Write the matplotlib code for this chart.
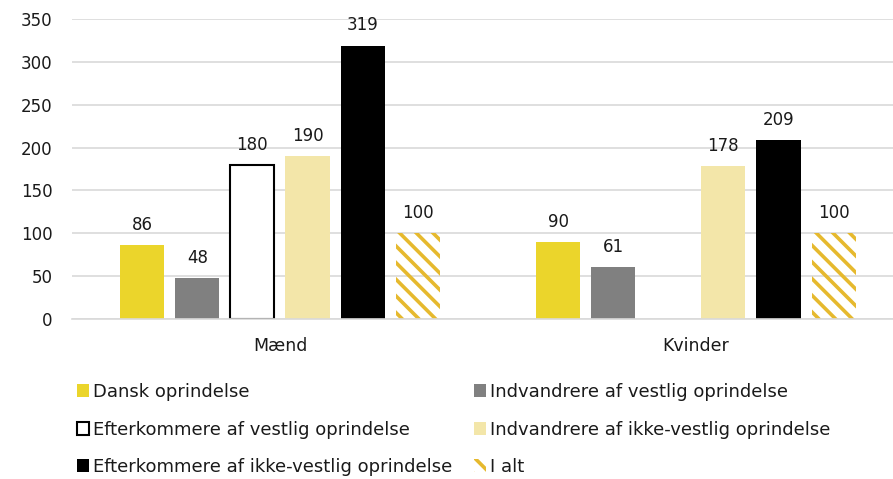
import matplotlib
matplotlib.use("Agg")
import matplotlib.pyplot as plt
import matplotlib.patches as mpatches
import numpy as np

groups = ["Mænd", "Kvinder"]
series = [
    "Dansk oprindelse",
    "Indvandrere af vestlig oprindelse",
    "Efterkommere af vestlig oprindelse",
    "Indvandrere af ikke-vestlig oprindelse",
    "Efterkommere af ikke-vestlig oprindelse",
    "I alt",
]
values = [
    [86, 90],
    [48, 61],
    [180, np.nan],
    [190, 178],
    [319, 209],
    [100, 100],
]
yticks = [0, 50, 100, 150, 200, 250, 300, 350]

facecolors = ["#EBD52B", "#808080", "white", "#F3E6A9", "black", "none"]
edgecolors = ["none", "none", "black", "none", "none", "#E6B92E"]
hatches = [None, None, None, None, None, "\\\\"]
linewidths = [0, 0, 1.5, 0, 0, 0]

TXT = "#1a1a1a"
plt.rcParams["font.family"] = ["DejaVu Sans"]
plt.rcParams["font.size"] = 12
plt.rcParams["hatch.linewidth"] = 2.6

fig = plt.figure(figsize=(8.93, 4.79), dpi=100)
ax = fig.add_axes([72 / 893, 1 - 319 / 479, 1 - 72 / 893, 300 / 479])

x = np.arange(len(groups))
step = 0.1325
width = 0.106
for i, name in enumerate(series):
    xs = x + (i - 2.5) * step
    ax.bar(xs, values[i], width, color=facecolors[i], edgecolor=edgecolors[i],
           hatch=hatches[i], linewidth=linewidths[i], zorder=3, label=name)
    for xi, v in zip(xs, values[i]):
        if np.isnan(v):
            continue
        ax.annotate(f"{v:g}", (xi, v), xytext=(0, 8), textcoords="offset points",
                    ha="center", va="bottom", fontsize=12, color=TXT)

ax.set_xlim(-0.5, 1.474)
ax.set_ylim(0, 350)
ax.set_yticks(yticks)
ax.set_xticks(x)
ax.set_xticklabels(groups, fontsize=12.5)
ax.grid(axis="y", color="#D9D9D9", linewidth=1.2, zorder=0)
ax.tick_params(axis="both", length=0, colors=TXT)
ax.tick_params(axis="y", pad=14, labelsize=12)
ax.tick_params(axis="x", pad=13)
for s in ["top", "right", "left"]:
    ax.spines[s].set_visible(False)
ax.spines["bottom"].set_color("#D9D9D9")
ax.spines["bottom"].set_linewidth(1.2)
ax.spines["bottom"].set_zorder(4)

# legend entries, two columns filled row by row
pos = [(77, 392), (474, 392), (77, 430), (474, 430), (77, 467), (474, 467)]
for i, name in enumerate(series):
    if i == 5:
        h = mpatches.Patch(facecolor="white", edgecolor="#E6B92E", hatch="\\\\", linewidth=0)
    elif i == 2:
        h = mpatches.Patch(facecolor="white", edgecolor="black", linewidth=1.5)
    else:
        h = mpatches.Patch(facecolor=facecolors[i], linewidth=0)
    px, py = pos[i]
    leg = fig.legend(handles=[h], labels=[name], loc="center left",
                     bbox_to_anchor=(px / 893, 1 - py / 479), frameon=False,
                     handlelength=0.68, handleheight=0.68, handletextpad=0.22,
                     borderpad=0, borderaxespad=0, fontsize=13)
    for t in leg.get_texts():
        t.set_color(TXT)

fig.savefig("out.png", dpi=100)
